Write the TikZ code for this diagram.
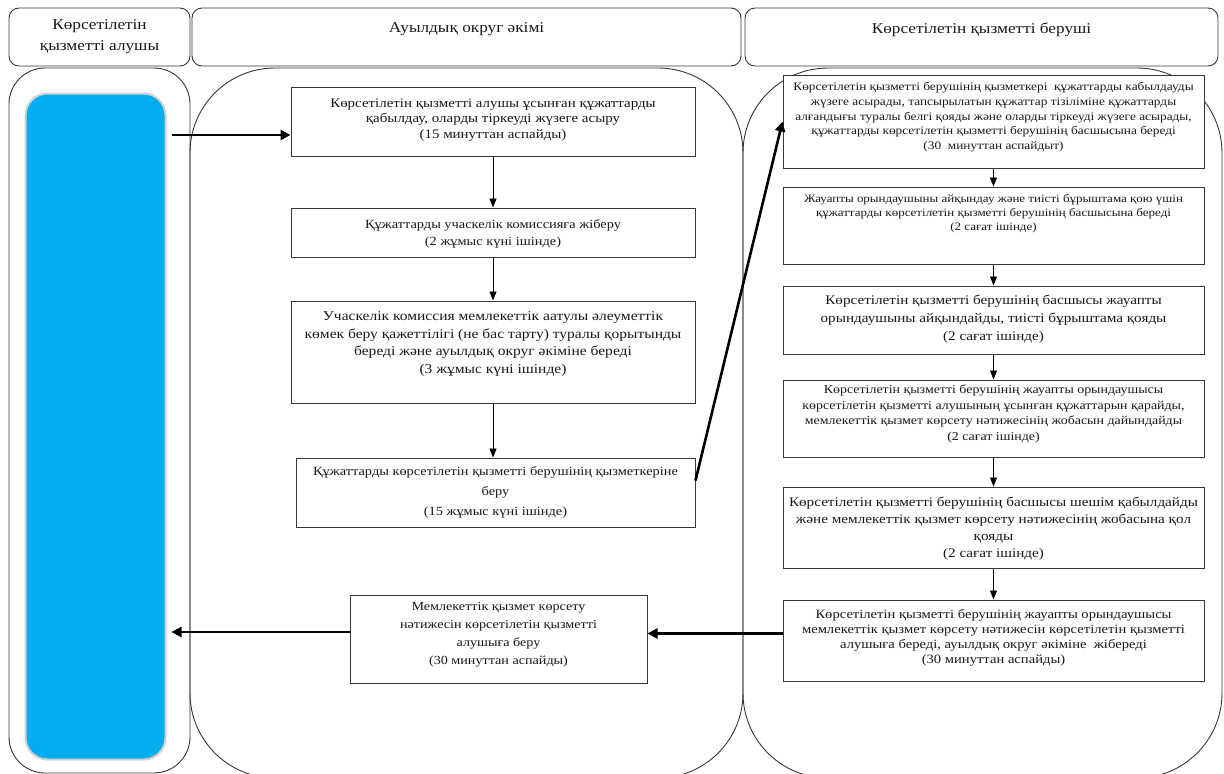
\documentclass[tikz,border=0pt]{standalone}
\usepackage{fontspec}
\setmainfont{Liberation Serif}[FakeStretch=1.15]
\usetikzlibrary{arrows.meta}
\definecolor{blueC}{RGB}{0,174,239}
\definecolor{lineC}{RGB}{55,55,55}
\definecolor{txtC}{RGB}{25,25,25}
% #1 width, #2 height, #3 font size, #4 baselineskip, #5 top space, #6 text
\newcommand\tx[6]{\parbox[c][#2pt][t]{#1pt}{\fontsize{#3pt}{#4pt}\selectfont\centering\vspace*{#5pt}#6\par}}
\begin{document}
\begin{tikzpicture}[x=1pt,y=-1pt,
  box/.style={draw=lineC, line width=1pt, fill=white, inner sep=0pt, text=txtC},
  hdr/.style={draw=lineC, line width=0.9pt, rounded corners=10pt, inner sep=0pt, text=txtC},
  lane/.style={draw=lineC, line width=0.9pt},
  thinarrow/.style={draw=black, line width=0.9pt, -{Triangle[width=7pt,length=9pt]}},
  thickarrow/.style={draw=black, line width=2.6pt, -{Triangle[width=10pt,length=10pt]}}]
\fill[white] (0,0) rectangle (1224,774);
\useasboundingbox (0,0) rectangle (1224,774);

% headers
\node[hdr] (h1) at (99.5,37) {\tx{181}{58}{15}{21}{12}{Көрсетілетін\\қызметті алушы}};
\node[hdr] (h2) at (466.5,37) {\tx{549}{58}{15}{21}{14.5}{Ауылдық округ әкімі}};
\node[hdr] (h3) at (981.5,37) {\tx{473}{58}{15}{21}{14.5}{Көрсетілетін қызметті беруші}};

% lanes
\begin{scope}
\clip (0,0) rectangle (1224,774);
\draw[lane, rounded corners=36pt] (9,68) rectangle (190,773);
\draw[lane, rounded corners=85pt] (190,68) rectangle (743,778);
\draw[lane, rounded corners=85pt] (743,68) rectangle (1222,778);
\end{scope}

% client panel
\node[fill=blueC, draw=black!18, line width=2pt, rounded corners=22pt, minimum width=140pt, minimum height=666pt, inner sep=0pt] (cl) at (95.5,426.5) {};

% middle column
\node[box] (B1) at (493,121.5) {\tx{404}{69}{13}{15.5}{11.4}{Көрсетілетін қызметті алушы ұсынған құжаттарды\\қабылдау, оларды тіркеуді жүзеге асыру\\(15 минуттан аспайды)}};
\node[box] (B2) at (493,232.5) {\tx{404}{49}{12.5}{17.5}{11.5}{Құжаттарды учаскелік комиссияға жіберу\\(2 жұмыс күні ішінде)}};
\node[box] (B3) at (493,352) {\tx{404}{102}{13.5}{17.5}{10.6}{Учаскелік комиссия мемлекеттік аатулы әлеуметтік\\көмек беру қажеттілігі (не бас тарту) туралы қорытынды\\береді және ауылдық округ әкіміне береді\\(3 жұмыс күні ішінде)}};
\node[box] (B4) at (495.5,492.5) {\tx{399}{69}{12.5}{20}{8.8}{Құжаттарды көрсетілетін қызметті берушінің қызметкеріне\\беру\\(15 жұмыс күні ішінде)}};
\node[box] (B5) at (498.5,639) {\tx{297}{88}{12.3}{18}{7}{Мемлекеттік қызмет көрсету\\нәтижесін көрсетілетін қызметті\\алушыға беру\\(30 минуттан аспайды)}};

% right column
\node[box] (R1) at (993.5,121.5) {\tx{421}{93}{11.6}{14.8}{7.2}{Көрсетілетін қызметті берушінің қызметкері\ \ құжаттарды кабылдауды\\жүзеге асырады, тапсырылатын құжаттар тізіліміне құжаттарды\\алғандығы туралы белгі қояды және оларды тіркеуді жүзеге асырады,\\құжаттарды көрсетілетін қызметті берушінің басшысына береді\\(30\ \ минуттан аспайдыт)}};
\node[box] (R2) at (993.5,225.5) {\tx{421}{77}{11.3}{14}{7.2}{Жауапты орындаушыны айқындау және тиісті бұрыштама қою үшін\\құжаттарды көрсетілетін қызметті берушінің басшысына береді\\(2 сағат ішінде)}};
\node[box] (R3) at (993.5,320) {\tx{421}{68}{13.2}{18}{8.6}{Көрсетілетін қызметті берушінің басшысы жауапты\\орындаушыны айқындайды, тиісті бұрыштама қояды\\(2 сағат ішінде)}};
\node[box] (R4) at (993.5,418.5) {\tx{421}{77}{12.1}{15.5}{5}{Көрсетілетін қызметті берушінің жауапты орындаушысы\\көрсетілетін қызметті алушының ұсынған құжаттарын қарайды,\\мемлекеттік қызмет көрсету нәтижесінің жобасын дайындайды\\(2 сағат ішінде)}};
\node[box] (R5) at (993.5,527.5) {\tx{421}{81}{13.2}{16.8}{10.4}{Көрсетілетін қызметті берушінің басшысы шешім қабылдайды\\және мемлекеттік қызмет көрсету нәтижесінің жобасына қол\\қояды\\(2 сағат ішінде)}};
\node[box] (R6) at (993.5,640.5) {\tx{421}{81}{12.7}{15}{9.8}{Көрсетілетін қызметті берушінің жауапты орындаушысы\\мемлекеттік қызмет көрсету нәтижесін көрсетілетін қызметті\\алушыға береді, ауылдық округ әкіміне\ \ жібереді\\(30 минуттан аспайды)}};

% arrows
\coordinate (s1) at (172,135);
\draw[thickarrow] (s1) -- (s1 -| B1.west);
\draw[thinarrow] (B1) -- (B2);
\draw[thinarrow] (B2) -- (B3);
\draw[thinarrow] (B3.south -| B1) -- (B4.north -| B1);
\draw[thickarrow] ([yshift=12pt]B4.east) -- (R1.west);
\draw[thinarrow] (R1) -- (R2);
\draw[thinarrow] (R2) -- (R3);
\draw[thinarrow] (R3) -- (R4);
\draw[thinarrow] (R4) -- (R5);
\draw[thinarrow] (R5) -- (R6);
\coordinate (e6) at ([yshift=7pt]R6.west);
\draw[thickarrow] (e6) -- (e6 -| B5.east);
\coordinate (e5) at ([yshift=7pt]B5.west);
\draw[thickarrow, shorten >=5pt] (e5) -- (e5 -| cl.east);
\end{tikzpicture}
\end{document}
